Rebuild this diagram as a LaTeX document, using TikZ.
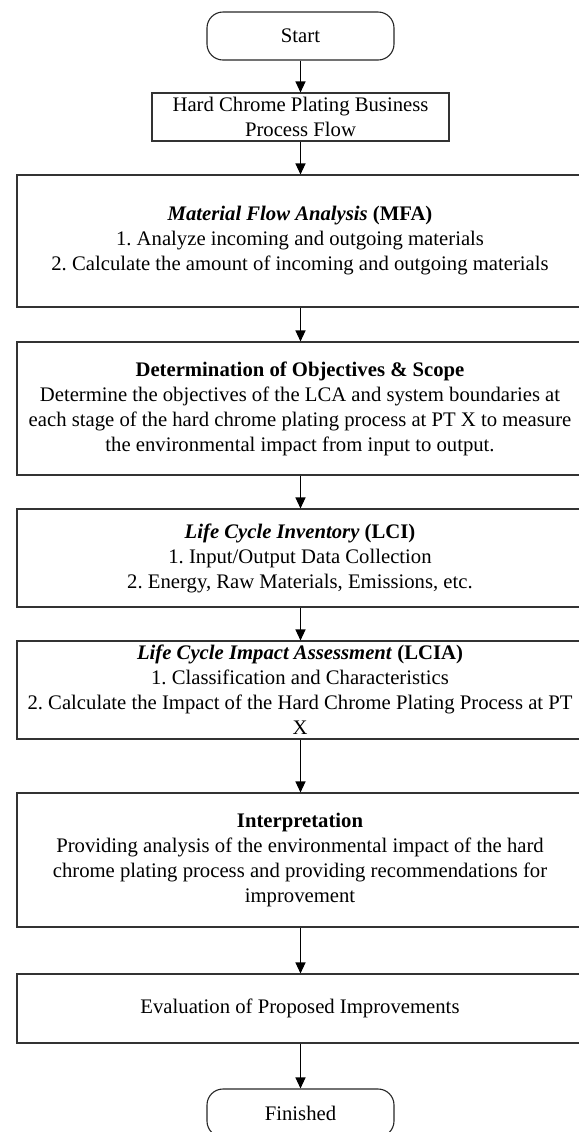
\documentclass[tikz,border=0pt]{standalone}
\usepackage{fontspec}
\setmainfont{Liberation Serif}
\usetikzlibrary{arrows.meta}
\begin{document}
\begin{tikzpicture}[x=0.5pt,y=-0.5pt,
  every node/.style={font=\fontsize{10.35}{12.5}\selectfont\frenchspacing, align=center, inner sep=0pt},
  terminal/.style={draw=black!85, line width=0.55pt, rounded corners=8pt, minimum width=93.5pt, minimum height=24pt},
  smallbox/.style={draw=black!80, line width=0.55pt, minimum width=148.5pt, minimum height=24pt},
  bigbox/.style={draw=black!80, line width=0.55pt, minimum width=283pt},
  arr/.style={draw=black, line width=0.55pt, -{Triangle[length=5.5pt,width=5pt]}}]
\useasboundingbox (0,0) rectangle (579,1132);
\node[terminal] (start) at (300.5,36) {Start};
\node[smallbox] (hc) at (300.5,117) {Hard Chrome Plating Business\\Process Flow};
\node[bigbox, minimum height=66pt] (mfa) at (300,241) {\textbf{\textit{Material Flow Analysis}} \textbf{(MFA)}\\1. Analyze incoming and outgoing materials\\2. Calculate the amount of incoming and outgoing materials};
\node[bigbox, minimum height=66.5pt] (obj) at (300,408.5) {\textbf{Determination of Objectives \& Scope}\\Determine the objectives of the LCA and system boundaries at\\each stage of the hard chrome plating process at PT X to measure\\the environmental impact from input to output.};
\node[bigbox, minimum height=49pt] (lci) at (300,558) {\textbf{\textit{Life Cycle Inventory}} \textbf{(LCI)}\\1. Input/Output Data Collection\\2. Energy, Raw Materials, Emissions, etc.};
\node[bigbox, minimum height=49pt] (lcia) at (300,690) {\textbf{\textit{Life Cycle Impact Assessment}} \textbf{(LCIA)}\\1. Classification and Characteristics\\2. Calculate the Impact of the Hard Chrome Plating Process at PT\\X};
\node[bigbox, minimum height=67pt] (interp) at (300,860) {\textbf{Interpretation}\\Providing analysis of the environmental impact of the hard\\chrome plating process and providing recommendations for\\improvement};
\node[bigbox, minimum height=34.5pt] (eval) at (300,1008.5) {Evaluation of Proposed Improvements};
\node[terminal] (fin) at (300.5,1113) {Finished};
\draw[arr] (start) -- (hc);
\draw[arr] (hc.south) -- (mfa.north -| hc.south);
\draw[arr] (mfa.south -| hc.south) -- (obj.north -| hc.south);
\draw[arr] (obj.south -| hc.south) -- (lci.north -| hc.south);
\draw[arr] (lci.south -| hc.south) -- (lcia.north -| hc.south);
\draw[arr] (lcia.south -| hc.south) -- (interp.north -| hc.south);
\draw[arr] (interp.south -| hc.south) -- (eval.north -| hc.south);
\draw[arr] (eval.south -| hc.south) -- (fin.north);
\end{tikzpicture}
\end{document}
